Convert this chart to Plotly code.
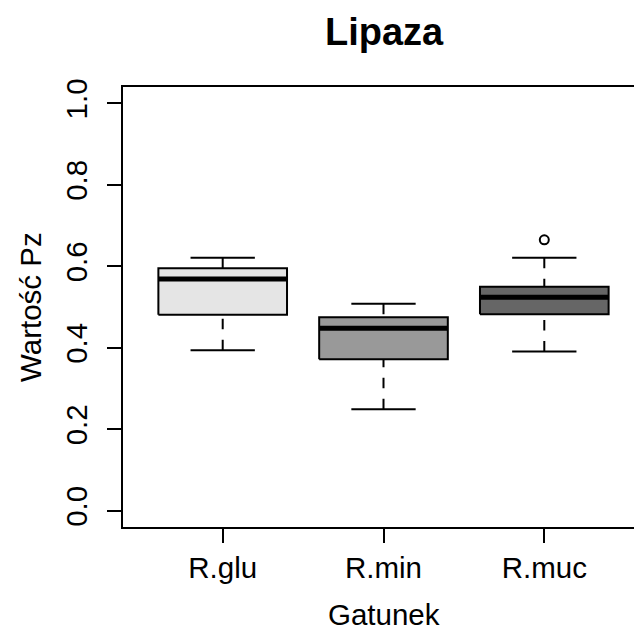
import plotly.graph_objects as go

# Lipase Pz values per species: five-number summaries plus outliers
species = ["R.glu", "R.min", "R.muc"]
lower_whisker = [0.394, 0.249, 0.391]
q1 = [0.481, 0.372, 0.482]
median = [0.569, 0.448, 0.524]
q3 = [0.595, 0.475, 0.550]
upper_whisker = [0.621, 0.508, 0.621]
outliers = [[], [], [0.665]]
fill_colors = ["#E5E5E5", "#999999", "#666666"]

y_ticks = [0.0, 0.2, 0.4, 0.6, 0.8, 1.0]
y_tick_labels = ["0.0", "0.2", "0.4", "0.6", "0.8", "1.0"]

BOX_HALF = 0.4
CAP_HALF = 0.2
FONT = "Liberation Sans, Arial, Helvetica, sans-serif"
AXIS_SIZE = 29.5
TITLE_SIZE = 38

fig = go.Figure()

for i, name in enumerate(species):
    x = i + 1
    # dashed whiskers, drawn from the whisker end towards the box
    for a, b in ((lower_whisker[i], q1[i]), (upper_whisker[i], q3[i])):
        fig.add_trace(go.Scatter(
            x=[x, x], y=[a, b], mode="lines",
            line=dict(color="black", width=2, dash="10.5px,10.5px"),
            hoverinfo="skip", showlegend=False))
    # whisker caps
    for v in (lower_whisker[i], upper_whisker[i]):
        fig.add_trace(go.Scatter(
            x=[x - CAP_HALF, x + CAP_HALF], y=[v, v], mode="lines",
            line=dict(color="black", width=2),
            hoverinfo="skip", showlegend=False))
    # box from Q1 to Q3
    fig.add_trace(go.Scatter(
        x=[x - BOX_HALF, x + BOX_HALF, x + BOX_HALF, x - BOX_HALF, x - BOX_HALF],
        y=[q1[i], q1[i], q3[i], q3[i], q1[i]],
        mode="lines", fill="toself", fillcolor=fill_colors[i],
        line=dict(color="black", width=2),
        name=name, showlegend=False))
    # thick median bar
    fig.add_trace(go.Scatter(
        x=[x - BOX_HALF, x + BOX_HALF], y=[median[i], median[i]], mode="lines",
        line=dict(color="black", width=5),
        hoverinfo="skip", showlegend=False))
    # outlying points
    if outliers[i]:
        fig.add_trace(go.Scatter(
            x=[x] * len(outliers[i]), y=outliers[i], mode="markers",
            marker=dict(symbol="circle-open", size=9, color="black",
                        line=dict(width=2, color="black")),
            showlegend=False))

W, H = 634, 632
ML, MT, MB = 123, 87, 105
unit_px = 160.8
x0 = 0.38
x1 = x0 + (W - ML) / unit_px

fig.update_layout(
    width=W, height=H,
    margin=dict(l=ML, r=0, t=MT, b=MB),
    paper_bgcolor="white", plot_bgcolor="white",
    font=dict(family=FONT, size=AXIS_SIZE, color="black"),
    showlegend=False,
    xaxis=dict(
        range=[x0, x1], tickmode="array", tickvals=[1, 2, 3], ticktext=species,
        showgrid=False, zeroline=False,
        showline=True, linecolor="black", linewidth=2, mirror=True,
        ticks="outside", ticklen=14, tickwidth=2, tickcolor="black",
        tickfont=dict(family=FONT, size=AXIS_SIZE, color="black"),
    ),
    yaxis=dict(
        range=[-0.04, 1.04], tickmode="array", tickvals=y_ticks, ticktext=y_tick_labels,
        showgrid=False, zeroline=False,
        showline=True, linecolor="black", linewidth=2, mirror=False,
        ticks="outside", ticklen=14, tickwidth=2, tickcolor="black",
        tickangle=-90, ticklabelstandoff=8,
        tickfont=dict(family=FONT, size=AXIS_SIZE, color="black"),
    ),
    annotations=[
        dict(text="<b>Lipaza</b>", xref="paper", yref="paper",
             x=(384 - ML) / (W - ML), y=1 + (MT - 32) / (H - MT - MB),
             xanchor="center", yanchor="middle", showarrow=False,
             font=dict(family=FONT, size=TITLE_SIZE, color="black")),
        dict(text="Gatunek", xref="paper", yref="paper",
             x=(384 - ML) / (W - ML), y=-(614 - (H - MB)) / (H - MT - MB),
             xanchor="center", yanchor="middle", showarrow=False,
             font=dict(family=FONT, size=AXIS_SIZE, color="black")),
        dict(text="Wartość Pz", xref="paper", yref="paper",
             x=-(ML - 30) / (W - ML), y=0.5, textangle=-90,
             xanchor="center", yanchor="middle", showarrow=False,
             font=dict(family=FONT, size=AXIS_SIZE, color="black")),
    ],
)

fig.write_html("out.html")
